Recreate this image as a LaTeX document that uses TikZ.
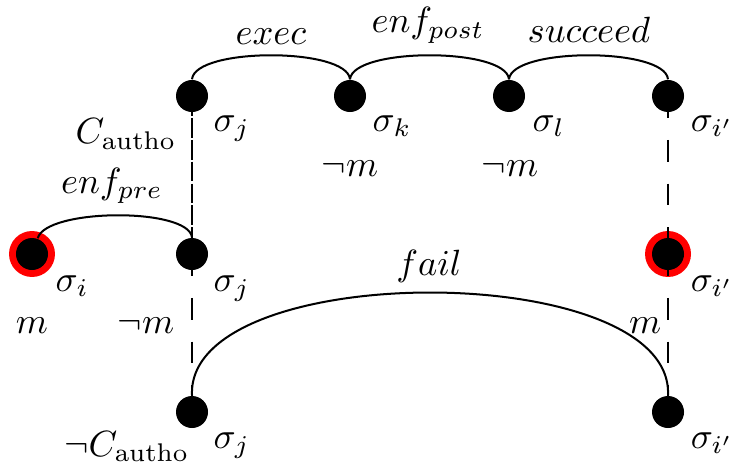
\documentclass[tikz,border=0pt]{standalone}
\usetikzlibrary{backgrounds}
\begin{document}
\begin{tikzpicture}[x=0.274pt,y=-0.274pt,
  st/.style={circle,fill=black,inner sep=0pt,minimum size=8.77pt},
  lbl/.style={inner sep=0pt},
  arcl/.style={line width=0.55pt},
  dsh/.style={line width=0.55pt,dash pattern=on 6pt off 6pt},
  dns/.style={line width=0.55pt,dash pattern=on 5.4pt off 0.6pt}]
\useasboundingbox (0,0) rectangle (730,467);
% states
\node[st] (tj) at (192,96) {};
\node[st] (tk) at (350,96) {};
\node[st] (tl) at (509,96) {};
\node[st] (ti) at (668,96) {};
\node[st] (i)  at (32,254) {};
\node[st] (mj) at (192,254) {};
\node[st] (mi) at (668,254) {};
\node[st] (bj) at (192,412) {};
\node[st] (bi) at (668,412) {};
\begin{scope}[on background layer]
  \fill[red] (i) circle (6.3pt);
  \fill[red] (mi) circle (6.3pt);
\end{scope}
% arcs
\draw[arcl] (tj.north) .. controls +(3,-32) and +(-3,-32) .. (tk.north);
\draw[arcl] (tk.north) .. controls +(3,-32) and +(-3,-32) .. (tl.north);
\draw[arcl] (tl.north) .. controls +(3,-32) and +(-3,-32) .. (ti.north);
\draw[arcl] (i.70) .. controls +(8,-30) and +(-4,-30) .. (mj.north);
\draw[arcl] (bj.north) .. controls +(-6,-137) and +(6,-137) .. (bi.north);
% dashed
\draw[dns] (tj.center) -- (mj.center);
\draw[dsh] (mj.center) -- (bj.center);
\draw[dsh] (ti.center) -- (mi.center);
\draw[dsh] (mi.center) -- (bi.center);
% arc labels
\node[lbl,anchor=base] (lexec) at (271,45) {$exec$};
\node[lbl,anchor=base] (lpost) at (428,33) {$enf_{post}$};
\node[lbl,anchor=base] (lsucc) at (589,43) {$succeed$};
\node[lbl,anchor=base] (lpre) at (112,193) {$enf_{pre}$};
\node[lbl,anchor=base] (lfail) at (429,275) {$fail$};
\node[lbl,anchor=base east] (lca) at (177,144) {$C_{\mathrm{autho}}$};
\node[lbl,anchor=base east] (lnca) at (190,456) {$\neg C_{\mathrm{autho}}$};
% state labels
\node[lbl,anchor=base west] (stj) at (213,131) {$\sigma_j$};
\node[lbl,anchor=base west] (stk) at (372,131) {$\sigma_k$};
\node[lbl,anchor=base west] (stl) at (532,131) {$\sigma_l$};
\node[lbl,anchor=base west] (sti) at (690,131) {$\sigma_{i'}$};
\node[lbl,anchor=base west] (si) at (55,291) {$\sigma_i$};
\node[lbl,anchor=base west] (smj) at (213,291) {$\sigma_j$};
\node[lbl,anchor=base west] (smi) at (690,291) {$\sigma_{i'}$};
\node[lbl,anchor=base west] (sbj) at (213,448) {$\sigma_j$};
\node[lbl,anchor=base west] (sbi) at (690,448) {$\sigma_{i'}$};
% propositions
\node[lbl,anchor=base] (pk) at (350,176) {$\neg m$};
\node[lbl,anchor=base] (pl) at (510,176) {$\neg m$};
\node[lbl,anchor=base] (pi) at (32,333) {$m$};
\node[lbl,anchor=base east] (pmj) at (175,333) {$\neg m$};
\node[lbl,anchor=base east] (pmi) at (662,333) {$m$};
\end{tikzpicture}
\end{document}
